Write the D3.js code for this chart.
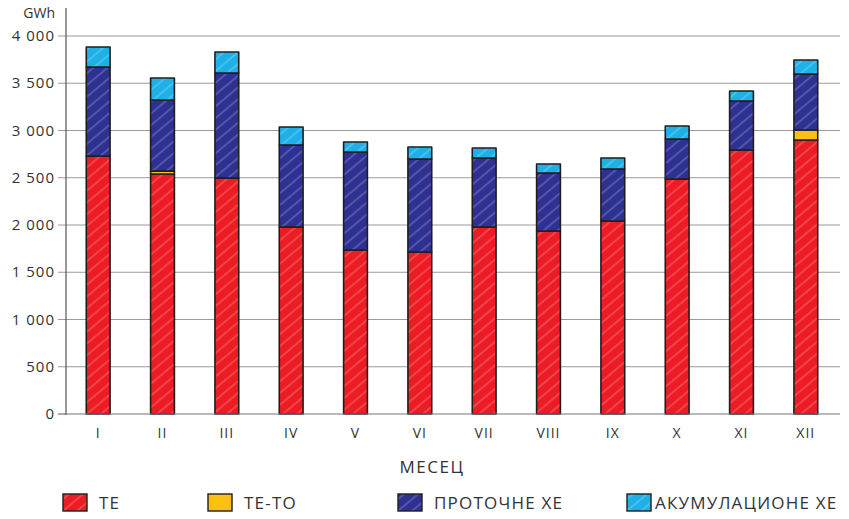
<!DOCTYPE html>
<html><head><meta charset="utf-8">
<script src="https://cdn.jsdelivr.net/npm/d3@7"></script>
<style>body{margin:0;background:#fff}svg{display:block}text{font-family:"Open Sans",sans-serif;fill:#333}</style>
</head><body><svg id="c" width="849" height="519"></svg>
<script>
const months = ["I","II","III","IV","V","VI","VII","VIII","IX","X","XI","XII"];
const te     = [2730,2540,2497,1979,1735,1714,1979,1937,2042,2487,2794,2899];
const teto   = [0,30,0,0,0,0,0,0,0,0,0,106];
const proto  = [942,752,1111,868,1037,984,730,613,551,423,518,593];
const akum   = [212,233,223,190,106,127,106,96,116,138,106,148];
const seriesNames = ["TE","TE-TO","ПРОТОЧНЕ ХЕ","АКУМУЛАЦИОНЕ ХЕ"];
const colors = ["#ED1C24","#FDC010","#2E3192","#1EB1E8"];
const yTicks = [0,500,1000,1500,2000,2500,3000,3500,4000];

const svg = d3.select("#c");
const defs = svg.append("defs");
colors.forEach((c,i)=>{
  const p = defs.append("pattern").attr("id","h"+i).attr("patternUnits","userSpaceOnUse")
    .attr("width",9).attr("height",9).attr("patternTransform","rotate(-40)");
  p.append("rect").attr("width",9).attr("height",9).attr("fill",c);
  if(i!==1) p.append("line").attr("x1",0).attr("y1",4).attr("x2",9).attr("y2",4)
    .attr("stroke","#fff").attr("stroke-opacity",0.35).attr("stroke-width",1);
});

const x = d3.scaleBand().domain(months).range([66,838]).paddingInner(0.63).paddingOuter(0.315);
const y = d3.scaleLinear().domain([0,4000]).range([414,36]);
const fmt = v => d3.format(",")(v).replace(/,/g," ");

// grid
svg.append("g").selectAll("line").data(yTicks.filter(d=>d>0)).join("line")
  .attr("x1",58).attr("x2",840).attr("y1",d=>y(d)).attr("y2",d=>y(d))
  .attr("stroke","#9a9a9a").attr("stroke-width",1.2);
// y tick labels
svg.append("g").selectAll("text").data(yTicks).join("text")
  .attr("x",55).attr("y",d=>y(d)+5).attr("text-anchor","end")
  .attr("font-size",15).attr("letter-spacing",1).text(fmt);
svg.append("line").attr("x1",58).attr("x2",66).attr("y1",y(0)).attr("y2",y(0)).attr("stroke","#555");
svg.append("text").attr("x",55).attr("y",18).attr("text-anchor","end").attr("font-size",14).text("GWh");

// stack
const rows = months.map((m,i)=>({m, s0:te[i], s1:teto[i], s2:proto[i], s3:akum[i]}));
const stack = d3.stack().keys(["s0","s1","s2","s3"])(rows);
const g = svg.append("g");
stack.forEach((layer,k)=>{
  g.append("g").selectAll("rect").data(layer.filter(d=>d[1]-d[0]>0)).join("rect")
    .attr("x",d=>x(d.data.m)).attr("width",x.bandwidth())
    .attr("y",d=>y(d[1])).attr("height",d=>y(d[0])-y(d[1]))
    .attr("fill","url(#h"+k+")").attr("stroke","#1e1e1e").attr("stroke-width",1.6)
    .attr("stroke-linejoin","round");
});

// axes lines
svg.append("line").attr("x1",66).attr("x2",66).attr("y1",8).attr("y2",415).attr("stroke","#555").attr("stroke-width",1.2);
svg.append("line").attr("x1",66).attr("x2",840).attr("y1",414).attr("y2",414).attr("stroke","#777").attr("stroke-width",1.2);

// x labels
svg.append("g").selectAll("text").data(months).join("text")
  .attr("x",d=>x(d)+x.bandwidth()/2).attr("y",438).attr("text-anchor","middle")
  .attr("font-size",14).attr("letter-spacing",1).text(d=>d);
svg.append("text").attr("x",432).attr("y",473).attr("text-anchor","middle").attr("font-size",17).attr("letter-spacing",1.5).text("МЕСЕЦ");

// legend
const legX = [63,208,398,627];
const lg = svg.append("g").selectAll("g").data(seriesNames).join("g")
  .attr("transform",(d,i)=>`translate(${legX[i]},494)`);
lg.append("rect").attr("width",24).attr("height",17).attr("fill",(d,i)=>"url(#h"+i+")")
  .attr("stroke","#1e1e1e").attr("stroke-width",1.4);
lg.append("text").attr("x",(d,i)=>i===3?28:36).attr("y",15).attr("font-size",17).attr("letter-spacing",1.2).text(d=>d);
</script></body></html>
